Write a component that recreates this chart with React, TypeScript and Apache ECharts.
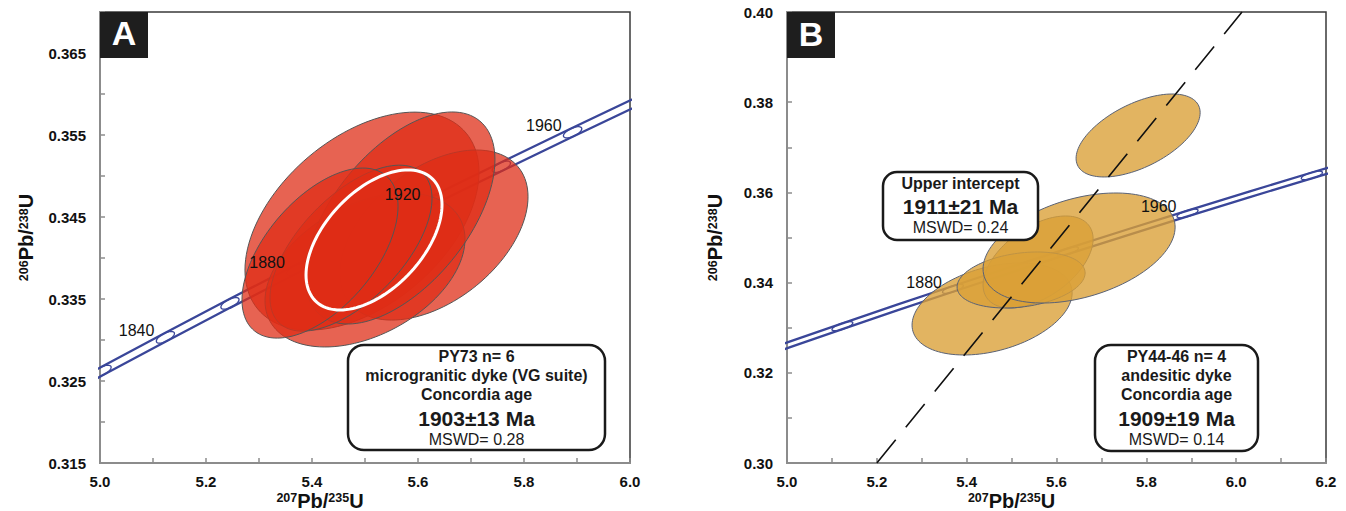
import React, { useEffect, useRef } from "react";
import * as echarts from "echarts";

const FONT = "'Liberation Sans', Arial, Helvetica, sans-serif";

// Concordia curve (age in Ma, 207Pb/235U, 206Pb/238U)
const concordiaAges = [1800, 1820, 1840, 1860, 1880, 1900, 1920, 1940, 1960, 1980, 2000, 2020];
const concordiaX = [4.8869, 5.004, 5.1234, 5.2452, 5.3695, 5.4962, 5.6254, 5.7572, 5.8917, 6.0287, 6.1685, 6.3112];
const concordiaY = [0.3221, 0.32621, 0.33033, 0.33447, 0.33861, 0.34277, 0.34695, 0.35113, 0.35533, 0.35954, 0.36377, 0.368];

// decay-constant error band half width (in 206/238 units)
const bandA = 0.00055;
const bandB = 0.00064;

const markerAgesA = [1820, 1840, 1860, 1880, 1900, 1920, 1940, 1960];
const labelAgesA = [1840, 1880, 1920, 1960];
const markerAgesB = [1840, 1880, 1920, 1960, 2000];
const labelAgesB = [1880, 1960];

// error ellipses: [x, y, sigmaX, sigmaY, rho]
const ellipsesA = [
  [5.4943, 0.3445, 0.2208, 0.01329, 0.45],
  [5.6302, 0.3428, 0.1774, 0.01037, 0.45],
  [5.5, 0.33854, 0.1887, 0.00939, 0.4],
  [5.566, 0.34488, 0.1792, 0.01293, 0.55],
  [5.4736, 0.3412, 0.1528, 0.01012, 0.6],
  [5.4151, 0.3406, 0.1472, 0.01037, 0.55],
];
const concordiaAgeA = [[5.517, 0.3422, 0.1283, 0.00854, 0.5]];

const ellipsesB = [
  [5.7817, 0.37262, 0.1381, 0.0092, 0.55],
  [5.4566, 0.33415, 0.1782, 0.0102, 0.35],
  [5.559, 0.34457, 0.1225, 0.0102, 0.5],
  [5.5212, 0.34058, 0.1425, 0.00621, 0.25],
  [5.6503, 0.34767, 0.2138, 0.0122, 0.38],
];

const discordiaB = [
  [5.2, 0.3],
  [6.013, 0.4],
];

const xTicksA = { min: 5.0, max: 6.0, interval: 0.1 };
const yTicksA = { min: 0.315, max: 0.37, interval: 0.005 };
const xTicksB = { min: 5.0, max: 6.2, interval: 0.1 };
const yTicksB = { min: 0.3, max: 0.4, interval: 0.01 };

const boxA = ["PY73 n= 6", "microgranitic dyke (VG suite)", "Concordia age", "1903±13 Ma", "MSWD= 0.28"];
const boxB = ["PY44-46 n= 4", "andesitic dyke", "Concordia age", "1909±19 Ma", "MSWD= 0.14"];
const boxB2 = ["Upper intercept", "1911±21 Ma", "MSWD= 0.24"];

const BLUE = "#3a4699";

function bandLine(off: number) {
  return concordiaX.map((x, i) => [x, concordiaY[i] + off]);
}

function markerData(ages: number[]) {
  return ages.map((a) => {
    const i = concordiaAges.indexOf(a);
    return [concordiaX[i], concordiaY[i], concordiaX[i + 1], concordiaY[i + 1]];
  });
}

function labelData(ages: number[]) {
  return ages.map((a) => {
    const i = concordiaAges.indexOf(a);
    return [concordiaX[i], concordiaY[i], a];
  });
}

function ellipseRender(fill: string, stroke: string, lw: number) {
  return (params: any, api: any) => {
    const cx = api.value(0);
    const cy = api.value(1);
    const sx = api.value(2);
    const sy = api.value(3);
    const r = api.value(4);
    const pts: number[][] = [];
    const n = 120;
    for (let k = 0; k < n; k++) {
      const t = (k / n) * Math.PI * 2;
      const x = cx + sx * Math.cos(t);
      const y = cy + sy * (r * Math.cos(t) + Math.sqrt(1 - r * r) * Math.sin(t));
      pts.push(api.coord([x, y]));
    }
    return {
      type: "polygon",
      shape: { points: pts },
      style: { fill, stroke, lineWidth: lw },
    };
  };
}

function markerRender(a: number, b: number) {
  return (params: any, api: any) => {
    const p0 = api.coord([api.value(0), api.value(1)]);
    const p1 = api.coord([api.value(2), api.value(3)]);
    let ux = p1[0] - p0[0];
    let uy = p1[1] - p0[1];
    const len = Math.hypot(ux, uy);
    ux /= len;
    uy /= len;
    const vx = -uy;
    const vy = ux;
    const pts: number[][] = [];
    for (let k = 0; k < 40; k++) {
      const t = (k / 40) * Math.PI * 2;
      pts.push([p0[0] + a * Math.cos(t) * ux + b * Math.sin(t) * vx, p0[1] + a * Math.cos(t) * uy + b * Math.sin(t) * vy]);
    }
    return {
      type: "polygon",
      shape: { points: pts },
      style: { fill: "none", stroke: BLUE, lineWidth: 1.3 },
    };
  };
}

function labelRender(params: any, api: any) {
  const p = api.coord([api.value(0), api.value(1)]);
  return {
    type: "text",
    x: p[0] - 11,
    y: p[1] - 6.5,
    style: {
      text: String(api.value(2)),
      fill: "#111",
      fontSize: 16,
      fontFamily: FONT,
      align: "right",
      verticalAlign: "middle",
    },
  };
}

const richName = {
  sup: { fontSize: 12.5, fontWeight: "bold", fontFamily: FONT, color: "#111", verticalAlign: "top", lineHeight: 18 },
  main: { fontSize: 20, fontWeight: "bold", fontFamily: FONT, color: "#111", lineHeight: 18 },
};

function xAxis(grid: number, t: any, gap: number) {
  return {
    type: "value",
    gridIndex: grid,
    min: t.min,
    max: t.max,
    interval: t.interval,
    axisLine: { show: true, lineStyle: { color: "#8c8c8c", width: 2 } },
    axisTick: { show: true, inside: true, length: 5, lineStyle: { color: "#8c8c8c", width: 1.5 } },
    splitLine: { show: false },
    axisLabel: {
      margin: 11,
      color: "#111",
      fontSize: 15,
      fontWeight: "bold",
      fontFamily: FONT,
      formatter: (v: number) => (Math.round(v * 10) % 2 === 0 ? v.toFixed(1) : ""),
    },
    name: "{sup|207}{main|Pb/}{sup|235}{main|U}",
    nameLocation: "middle",
    nameGap: gap,
    nameMoveOverlap: false,
    nameTextStyle: { rich: richName, padding: [0, 90, 0, 0] },
  };
}

function yAxis(grid: number, t: any, fmt: (v: number) => string, gap: number) {
  return {
    type: "value",
    gridIndex: grid,
    min: t.min,
    max: t.max,
    interval: t.interval,
    axisLine: { show: true, lineStyle: { color: "#8c8c8c", width: 2 } },
    axisTick: { show: true, inside: true, length: 5, lineStyle: { color: "#8c8c8c", width: 1.5 } },
    splitLine: { show: false },
    axisLabel: { margin: 14, color: "#111", fontSize: 15, fontWeight: "bold", fontFamily: FONT, formatter: fmt },
    name: "{sup|206}{main|Pb/}{sup|238}{main|U}",
    nameLocation: "middle",
    nameRotate: 90,
    nameGap: gap,
    nameMoveOverlap: false,
    nameTextStyle: { rich: richName },
  };
}

function boxGraphics(x: number, y: number, w: number, h: number, r: number, lines: string[], ys: number[], styles: any[]) {
  const els: any[] = [
    {
      type: "rect",
      z: 100,
      shape: { x, y, width: w, height: h, r },
      style: { fill: "#fff", stroke: "#1a1a1a", lineWidth: 2.5 },
    },
  ];
  lines.forEach((t, i) => {
    els.push({
      type: "text",
      z: 101,
      x: x + w / 2,
      y: ys[i],
      style: {
        text: t,
        fill: "#1a1a1a",
        fontFamily: FONT,
        align: "center",
        verticalAlign: "middle",
        ...styles[i],
      },
    });
  });
  return els;
}

const bold16 = { fontSize: 16, fontWeight: "bold" };
const big = { fontSize: 21, fontWeight: "bold" };
const reg16 = { fontSize: 16, fontWeight: "normal" };

function panelLabel(x: number, letter: string, ty: number) {
  return [
    { type: "rect", z: 100, shape: { x, y: 12, width: 48, height: 46 }, style: { fill: "#1e1e1e" } },
    {
      type: "text",
      z: 101,
      x: x + 24,
      y: ty,
      style: { text: letter, fill: "#fff", fontSize: 34, fontWeight: "bold", fontFamily: FONT, align: "center", verticalAlign: "middle" },
    },
  ];
}

export default function App() {
  const ref = useRef<HTMLDivElement>(null);
  useEffect(() => {
    document.body.style.margin = "0";
    const chart = echarts.init(ref.current!, null, { renderer: "svg" });
    const fillA = "rgba(222,45,22,0.74)";
    const fillB = "rgba(218,160,55,0.79)";
    const option: any = {
      animation: false,
      backgroundColor: "#fff",
      grid: [
        {
          left: 100,
          top: 12,
          width: 530,
          height: 451,
          show: true,
          borderColor: "#3a3a3a",
          borderWidth: 1.5,
          backgroundColor: "transparent",
          containLabel: false,
          outerBoundsMode: "none",
        },
        {
          left: 787,
          top: 12,
          width: 539,
          height: 451,
          show: true,
          borderColor: "#3a3a3a",
          borderWidth: 1.5,
          backgroundColor: "transparent",
          containLabel: false,
          outerBoundsMode: "none",
        },
      ],
      xAxis: [xAxis(0, xTicksA, 28.5), xAxis(1, xTicksB, 28.5)],
      yAxis: [
        yAxis(
          0,
          yTicksA,
          (v: number) => {
            const m = Math.round(v * 1000);
            return (m - 315) % 10 === 0 && m < 370 ? (m / 1000).toFixed(3) : "";
          },
          65
        ),
        yAxis(1, yTicksB, (v: number) => (Math.round(v * 100) % 2 === 0 ? v.toFixed(2) : ""), 63),
      ],
      series: [
        // Panel A
        { type: "line", xAxisIndex: 0, yAxisIndex: 0, data: bandLine(bandA), showSymbol: false, symbol: "none", lineStyle: { color: BLUE, width: 2.3 }, z: 2 },
        { type: "line", xAxisIndex: 0, yAxisIndex: 0, data: bandLine(-bandA), showSymbol: false, symbol: "none", lineStyle: { color: BLUE, width: 2.3 }, z: 2 },
        { type: "custom", xAxisIndex: 0, yAxisIndex: 0, data: markerData(markerAgesA), renderItem: markerRender(10, 4), clip: true, z: 3 },
        { type: "custom", xAxisIndex: 0, yAxisIndex: 0, data: ellipsesA, renderItem: ellipseRender(fillA, "#555", 1), z: 4 },
        { type: "custom", xAxisIndex: 0, yAxisIndex: 0, data: concordiaAgeA, renderItem: ellipseRender("none", "#fff", 3), z: 5 },
        { type: "custom", xAxisIndex: 0, yAxisIndex: 0, data: labelData(labelAgesA), renderItem: labelRender, z: 7 },
        // Panel B
        { type: "line", xAxisIndex: 1, yAxisIndex: 1, data: bandLine(bandB), showSymbol: false, symbol: "none", lineStyle: { color: BLUE, width: 2.3 }, z: 2 },
        { type: "line", xAxisIndex: 1, yAxisIndex: 1, data: bandLine(-bandB), showSymbol: false, symbol: "none", lineStyle: { color: BLUE, width: 2.3 }, z: 2 },
        { type: "custom", xAxisIndex: 1, yAxisIndex: 1, data: markerData(markerAgesB), renderItem: markerRender(11, 3), clip: true, z: 3 },
        { type: "custom", xAxisIndex: 1, yAxisIndex: 1, data: ellipsesB, renderItem: ellipseRender(fillB, "#5a6275", 1), z: 4 },
        {
          type: "line",
          xAxisIndex: 1,
          yAxisIndex: 1,
          data: discordiaB,
          showSymbol: false,
          symbol: "none",
          lineStyle: { color: "#111", width: 1.6, type: [30, 16] },
          z: 6,
        },
        { type: "custom", xAxisIndex: 1, yAxisIndex: 1, data: labelData(labelAgesB), renderItem: labelRender, z: 7 },
      ],
      graphic: [
        ...panelLabel(100, "A", 32.5),
        ...panelLabel(787, "B", 33.5),
        ...boxGraphics(348, 345, 257, 105, 16, boxA, [356, 375, 394, 418, 439], [bold16, bold16, bold16, big, reg16]),
        ...boxGraphics(1095, 345, 163, 106, 16, boxB, [356, 375, 394, 418, 439], [bold16, bold16, bold16, big, reg16]),
        ...boxGraphics(883, 172, 155, 68, 14, boxB2, [183, 206, 227], [bold16, big, reg16]),
      ],
    };
    chart.setOption(option);
    return () => chart.dispose();
  }, []);
  return <div ref={ref} style={{ width: 1346, height: 511 }} />;
}
